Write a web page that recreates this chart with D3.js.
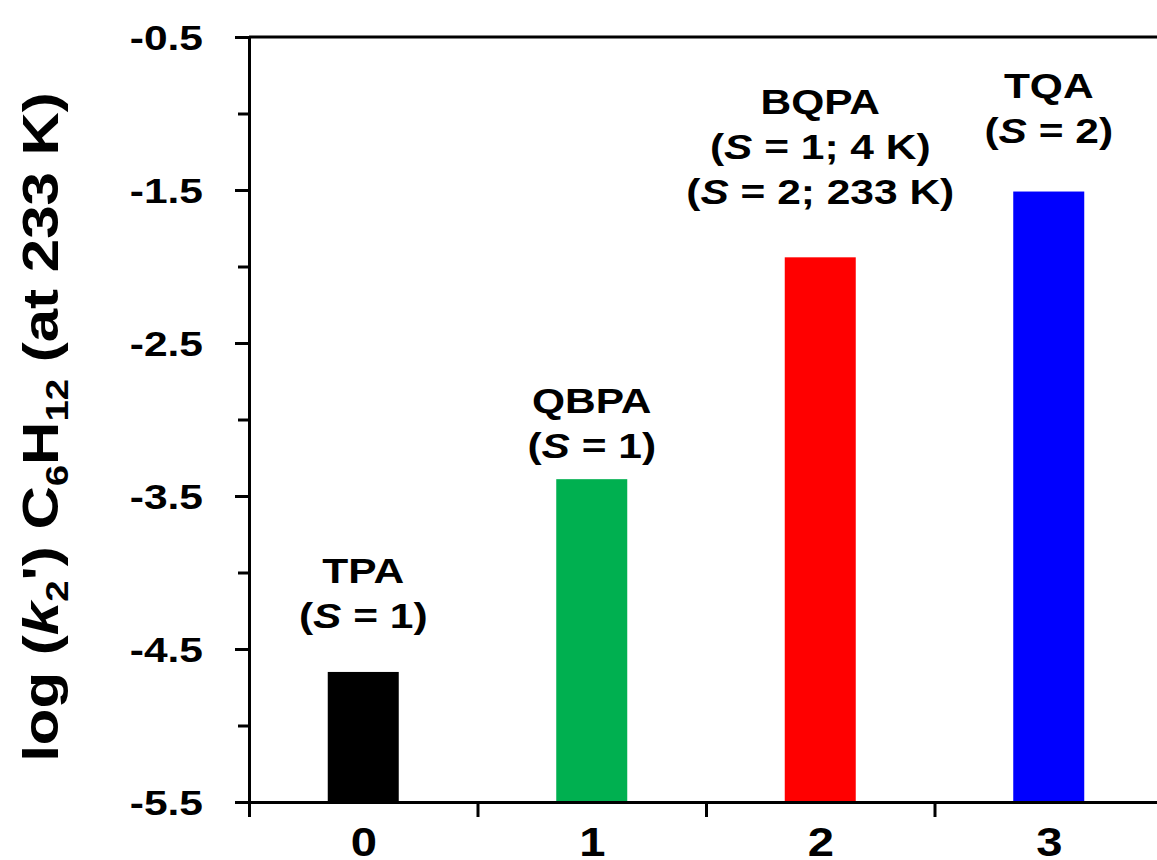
<!DOCTYPE html>
<meta charset="utf-8">
<style>
    body { margin: 0; background: #fff; }
    svg { display: block; }
    text { font-family: "Liberation Sans", Arial, sans-serif; font-weight: bold; fill: #000; }
    .axis path, .axis line { stroke: #000; stroke-width: 3px; }
</style>
<svg width="1157" height="860"></svg>
<script src="https://cdn.jsdelivr.net/npm/d3@7"></script>
<script>

    // values
    var categories = [0, 1, 2, 3];
    var compounds = ["TPA", "QBPA", "BQPA", "TQA"];
    var spinLines = [["1"], ["1"], ["1; 4 K", "2; 233 K"], ["2"]];
    var logK2 = [-4.65, -3.39, -1.94, -1.51];
    var barColors = ["#000000", "#00b050", "#ff0000", "#0000ff"];
    // baseline of each label's last line, in axis units
    var labelAt = [-4.36, -3.25, -1.59, -1.19];
    var majorTicks = [-5.5, -4.5, -3.5, -2.5, -1.5, -0.5];
    var minorTicks = [-5, -4, -3, -2, -1];
    var boundaryTicks = [-0.5, 0.5, 1.5, 2.5];

    var stretch = 1.18;   // the figure's lettering is wider than Arial

    var svg = d3.select("svg"),
        W = +svg.attr("width"),
        plotLeft = 249, plotTop = 37, plotBottom = 802;

    var x = d3.scaleLinear().domain([-0.5, 3.5]).range([plotLeft, plotLeft + 4 * 228.5]),
        y = d3.scaleLinear().domain([-5.5, -0.5]).range([plotBottom, plotTop]);

    // top frame line
    svg.append("line")
        .attr("x1", plotLeft).attr("x2", W)
        .attr("y1", y(-0.5)).attr("y2", y(-0.5))
        .attr("stroke", "#000").attr("stroke-width", 3);

    // bars
    svg.selectAll(".bar")
        .data(logK2)
        .enter().append("rect")
        .attr("class", "bar")
        .attr("x", function(d, i) { return x(categories[i]) - 35.5; })
        .attr("width", 71)
        .attr("y", function(d) { return y(d); })
        .attr("height", function(d) { return y(-5.5) - y(d); })
        .attr("fill", function(d, i) { return barColors[i]; });

    // minor y ticks
    svg.append("g")
        .attr("class", "axis")
        .attr("transform", "translate(" + plotLeft + ",0)")
        .call(d3.axisLeft(y).tickValues(minorTicks).tickSize(11).tickFormat(""))
        .select(".domain").remove();

    // major y ticks + labels
    var yAxis = svg.append("g")
        .attr("class", "axis")
        .attr("transform", "translate(" + plotLeft + ",0)")
        .call(d3.axisLeft(y).tickValues(majorTicks).tickSize(14).tickSizeOuter(0)
            .tickFormat(function(d) { return d.toFixed(1); }));
    yAxis.selectAll("text")
        .attr("x", -39)
        .attr("dy", "0.36em")
        .attr("transform", "scale(" + stretch + ",1)")
        .style("font-size", "36px");

    // x axis: boundary ticks
    svg.append("g")
        .attr("class", "axis")
        .attr("transform", "translate(0," + plotBottom + ")")
        .call(d3.axisBottom(x).tickValues(boundaryTicks).tickSize(15).tickSizeOuter(0).tickFormat(""));

    // x axis: category labels
    var xLabels = svg.append("g")
        .attr("class", "axis")
        .attr("transform", "translate(0," + plotBottom + ")")
        .call(d3.axisBottom(x).tickValues(categories).tickSize(0).tickFormat(d3.format("d")));
    xLabels.select(".domain").remove();
    xLabels.selectAll(".tick text")
        .attr("y", 0).attr("dy", 0)
        .attr("transform", "translate(0,54) scale(" + stretch + ",1)")
        .style("font-size", "40px");

    // bar annotations
    var lineGap = 45;
    var ann = svg.selectAll(".ann")
        .data(compounds)
        .enter().append("g")
        .attr("class", "ann")
        .attr("transform", function(d, i) {
            var n = spinLines[i].length;
            return "translate(" + x(categories[i]) + "," + (y(labelAt[i]) - n * lineGap) + ") scale(" + stretch + ",1)";
        });

    ann.append("text")
        .attr("text-anchor", "middle")
        .style("font-size", "36px")
        .text(function(d) { return d; });

    ann.each(function(d, i) {
        var g = d3.select(this);
        spinLines[i].forEach(function(s, j) {
            var t = g.append("text")
                .attr("text-anchor", "middle")
                .attr("y", (j + 1) * lineGap)
                .style("font-size", "36px");
            t.append("tspan").text("(");
            t.append("tspan").style("font-style", "italic").text("S");
            t.append("tspan").text(" = " + s + ")");
        });
    });

    // y axis title
    var title = svg.append("text")
        .attr("text-anchor", "middle")
        .attr("transform", "translate(58,427) rotate(-90) scale(1.2,1)")
        .style("font-size", "50px");
    title.append("tspan").text("log (");
    title.append("tspan").style("font-style", "italic").text("k");
    title.append("tspan").attr("dy", 10).style("font-size", "32px").text("2");
    title.append("tspan").attr("dy", -10).text("') C");
    title.append("tspan").attr("dy", 10).style("font-size", "32px").text("6");
    title.append("tspan").attr("dy", -10).text("H");
    title.append("tspan").attr("dy", 10).style("font-size", "32px").text("12");
    title.append("tspan").attr("dy", -10).text(" (at 233 K)");

</script>
